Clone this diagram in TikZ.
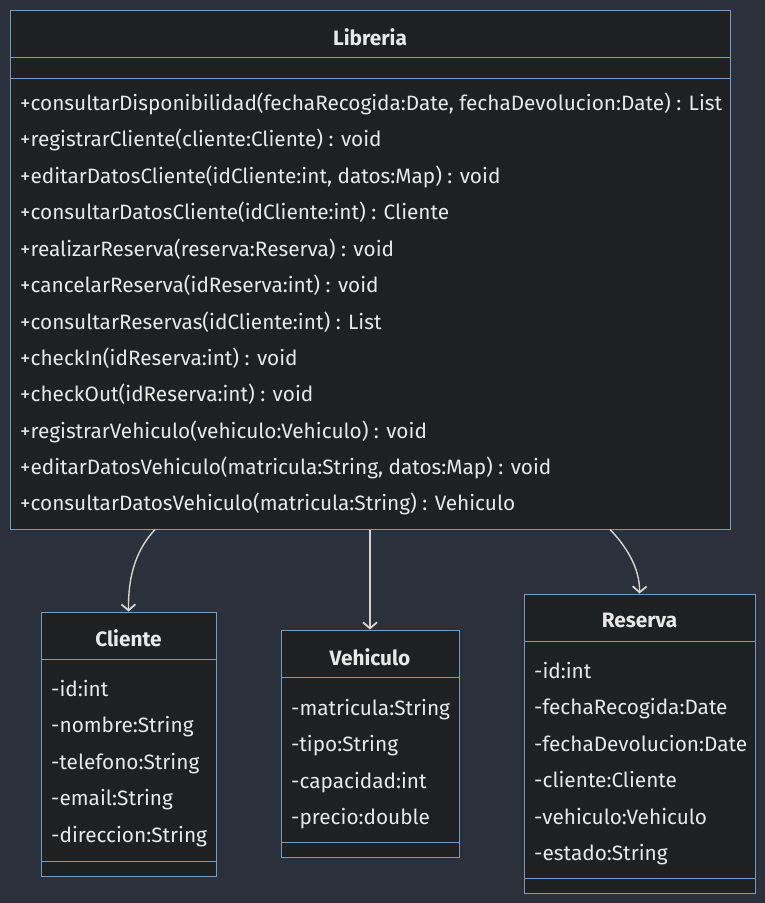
\documentclass[tikz,border=0pt]{standalone}
\usepackage{fontspec}
\setmainfont{Fira Sans}
\usetikzlibrary{arrows.meta}
\definecolor{bg}{RGB}{43,48,59}
\definecolor{boxfill}{RGB}{31,32,33}
\definecolor{boxline}{RGB}{118,156,196}
\definecolor{txt}{RGB}{232,232,232}
\definecolor{arr}{RGB}{212,212,212}
\tikzset{
  umlbox/.style={draw=boxline, fill=boxfill, line width=1pt, inner sep=0pt},
  sep/.style={draw=boxline, line width=1pt},
  title/.style={font=\fontsize{20.8}{24}\selectfont\bfseries, text=txt, inner sep=0pt, yshift=-1pt},
  member/.style={font=\fontsize{20.8}{24}\selectfont, text=txt, anchor=west, inner sep=0pt, text height=15pt, text depth=4pt, yshift=-1.5pt},
  conn/.style={draw=arr, line width=1.4pt, -{Straight Barb[length=6pt,width=14pt,line width=1.8pt]}}
}
\begin{document}
\begin{tikzpicture}[x=1pt,y=-1pt]
\fill[bg] (0,0) rectangle (765,903);
\useasboundingbox (0,0) rectangle (765,903);
% Libreria
\node[umlbox, minimum width=720pt, minimum height=519pt] (lib) at (370,269.5) {};
\draw[sep] (10,57) -- (730,57);
\draw[sep] (10,78) -- (730,78);
\node[title] (libt) at (370,36) {Libreria};
\foreach \y/\t [count=\i] in {
103/{+consultarDisponibilidad(fechaRecogida:Date, fechaDevolucion:Date) : List},
139/{+registrarCliente(cliente:Cliente) : void},
176/{+editarDatosCliente(idCliente:int, datos:Map) : void},
212/{+consultarDatosCliente(idCliente:int) : Cliente},
249/{+realizarReserva(reserva:Reserva) : void},
285/{+cancelarReserva(idReserva:int) : void},
322/{+consultarReservas(idCliente:int) : List},
358/{+checkIn(idReserva:int) : void},
394/{+checkOut(idReserva:int) : void},
431/{+registrarVehiculo(vehiculo:Vehiculo) : void},
467/{+editarDatosVehiculo(matricula:String, datos:Map) : void},
503/{+consultarDatosVehiculo(matricula:String) : Vehiculo}}
  \node[member] (libm\i) at (20,\y) {\t};
% Cliente
\node[umlbox, minimum width=175pt, minimum height=264pt] (cli) at (128.5,744) {};
\draw[sep] (41,659) -- (216,659);
\draw[sep] (41,861) -- (216,861);
\node[title] (clit) at (128.5,637) {Cliente};
\foreach \y/\t [count=\i] in {689/{-id:int},725/{-nombre:String},762/{-telefono:String},798/{-email:String},835/{-direccion:String}}
  \node[member] (clim\i) at (51,\y) {\t};
% Vehiculo
\node[umlbox, minimum width=178pt, minimum height=227pt] (veh) at (370,743.5) {};
\draw[sep] (281,677) -- (459,677);
\draw[sep] (281,842) -- (459,842);
\node[title] (veht) at (370,656) {Vehiculo};
\foreach \y/\t [count=\i] in {708/{-matricula:String},744/{-tipo:String},781/{-capacidad:int},817/{-precio:double}}
  \node[member] (vehm\i) at (291,\y) {\t};
% Reserva
\node[umlbox, minimum width=231pt, minimum height=299pt] (res) at (639.5,743.5) {};
\draw[sep] (524,641) -- (755,641);
\draw[sep] (524,878) -- (755,878);
\node[title] (rest) at (639.5,619) {Reserva};
\foreach \y/\t [count=\i] in {671/{-id:int},707/{-fechaRecogida:Date},744/{-fechaDevolucion:Date},780/{-cliente:Cliente},817/{-vehiculo:Vehiculo},853/{-estado:String}}
  \node[member] (resm\i) at (534,\y) {\t};
% connectors
\coordinate (s1) at (155,529.5);
\coordinate (s2) at (370,529.5);
\coordinate (s3) at (610,529.5);
\draw[conn] (s1) .. controls (138,548) and (128,572) .. (cli.north);
\draw[conn] (s2) -- (veh.north);
\draw[conn] (s3) .. controls (626,546) and (640,568) .. (res.north);
\end{tikzpicture}
\end{document}
